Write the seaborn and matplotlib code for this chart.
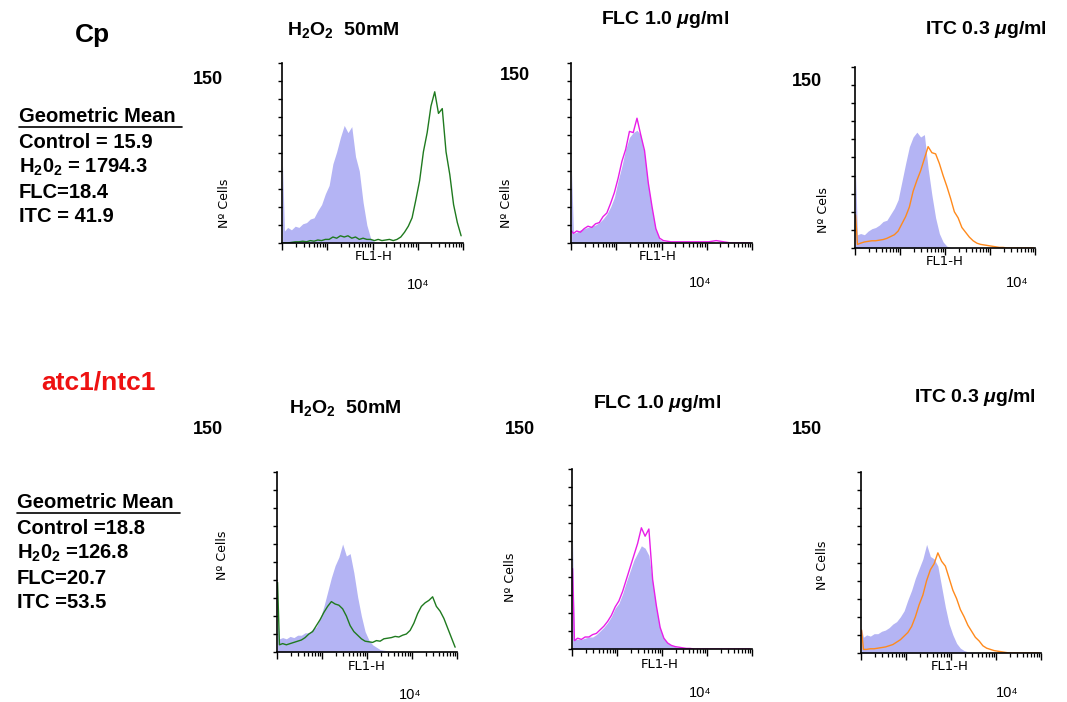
import numpy as np
import pandas as pd
import matplotlib
matplotlib.use("Agg")
import matplotlib.pyplot as plt
from matplotlib.ticker import FixedLocator, NullFormatter
from matplotlib.lines import Line2D
import seaborn as sns

# Histogram counts: first value = first-channel spike,
# then 48 bins of 1/12 decade from 10^0 to 10^4 (FL1-H)
cp_h2o2_ctrl = [65,
                10, 13, 11, 14, 13, 16, 17, 20, 21, 27, 32, 41,
                48, 66, 76, 88, 98, 92, 97, 72, 60, 34, 15, 4,
                1, 0.5, 0, 0, 0, 0, 0, 0, 0, 0, 0, 0,
                0, 0, 0, 0, 0, 0, 0, 0, 0, 0, 0, 0]
cp_h2o2_trt = [0,
               0, 0, 0.5, 1, 1, 1.5, 1, 2, 1.5, 2.5, 2, 3,
               3, 5, 4, 6, 5, 6, 4, 5, 3, 4, 3, 3,
               2, 3, 2, 2.5, 3, 2, 3, 5, 9, 14, 21, 36,
               52, 76, 92, 114, 126, 108, 112, 76, 57, 32, 17, 6]

cp_flc_ctrl = [60,
               8, 9, 11, 12, 13, 14, 15, 17, 20, 24, 30, 38,
               52, 64, 78, 88, 92, 94, 90, 74, 48, 28, 11, 3,
               1.5, 1, 0.5, 0.5, 0, 0, 0, 0, 0, 0, 0, 0,
               0, 0, 0, 0, 0, 0, 0, 0, 0, 0, 0, 0]
cp_flc_trt = [10,
              8, 10, 9, 12, 14, 13, 16, 17, 22, 25, 33, 42,
              54, 68, 78, 93, 92, 104, 90, 77, 50, 30, 12, 4,
              2, 1.5, 1, 1, 1, 1, 1, 1, 1, 1, 1, 1,
              1, 1.5, 2, 1.5, 1, 0.5, 0, 0, 0, 0, 0, 0]

cp_itc_ctrl = [63,
               11, 12, 11, 14, 16, 17, 19, 22, 23, 28, 33, 40,
               55, 70, 84, 92, 96, 92, 94, 66, 44, 25, 12, 5,
               1.5, 0.5, 0, 0, 0, 0, 0, 0, 0, 0, 0, 0,
               0, 0, 0, 0, 0, 0, 0, 0, 0, 0, 0, 0]
cp_itc_trt = [27.5,
              3, 4, 5, 5.5, 6, 6, 6.5, 7, 8, 9.5, 11, 14,
              20, 26, 34, 47, 56, 64, 74, 84, 79, 78, 70, 60,
              51, 41, 30, 25, 17, 13, 9, 6, 4, 3, 2.5, 2,
              1.5, 1, 0.5, 0.5, 0, 0, 0, 0, 0, 0, 0, 0]

atc_h2o2_ctrl = [30,
                 11, 12, 11, 13, 12, 14, 14, 16, 16, 19, 21, 28,
                 38, 50, 62, 72, 79, 90, 80, 82, 66, 46, 30, 17,
                 10, 6, 4, 2, 1.5, 1, 0.5, 0, 0, 0, 0, 0,
                 0, 0, 0, 0, 0, 0, 0, 0, 0, 0, 0, 0]
atc_h2o2_trt = [58,
                6, 7, 6, 7, 8, 9, 10, 12, 15, 17, 22, 27,
                33, 38, 42, 40, 39, 36, 30, 22, 17, 14, 11, 9,
                8.5, 8, 9.5, 9, 11, 11.5, 12, 13, 12.5, 14, 15, 18,
                24, 32, 38, 41, 43, 46, 38, 34, 28, 20, 12, 4]

atc_flc_ctrl = [91,
                8, 8, 8, 9, 10, 10, 12, 15, 18, 22, 27, 34,
                38, 46, 56, 65, 74, 80, 86, 84, 78, 56, 34, 17,
                9, 5, 3, 2, 1, 0.5, 0, 0, 0, 0, 0, 0,
                0, 0, 0, 0, 0, 0, 0, 0, 0, 0, 0, 0]
atc_flc_trt = [67,
               7, 9, 8, 10, 10, 12, 13, 16, 19, 23, 28, 35,
               40, 48, 58, 68, 78, 88, 101, 94, 100, 58, 36, 18,
               9, 5, 3, 2, 1.5, 1, 0.5, 0.5, 0, 0, 0, 0,
               0, 0, 0, 0, 0, 0, 0, 0, 0, 0, 0, 0]

atc_itc_ctrl = [20,
                13, 15, 14, 16, 16, 18, 19, 21, 24, 26, 30, 35,
                44, 52, 62, 70, 78, 90, 80, 78, 72, 55, 38, 24,
                15, 8, 4, 2, 1, 0.5, 0, 0, 0, 0, 0, 0,
                0, 0, 0, 0, 0, 0, 0, 0, 0, 0, 0, 0]
atc_itc_trt = [19,
               3, 3, 3.5, 3.5, 4, 4.5, 5, 6, 7, 9, 11, 14,
               17, 22, 30, 40, 48, 60, 69, 74, 83, 76, 72, 62,
               52, 45, 36, 30, 23, 18, 13, 10, 6, 4, 3, 2,
               1.5, 1, 0.5, 0, 0, 0, 0, 0, 0, 0, 0, 0]

cp_stats = ["Control = 15.9", "H$_2$0$_2$ = 1794.3", "FLC=18.4", "ITC = 41.9"]
atc_stats = ["Control =18.8", "H$_2$0$_2$ =126.8", "FLC=20.7", "ITC =53.5"]

LAV = "#b4b4f4"
GREEN = "#1f7a1f"
MAGENTA = "#e81ee8"
ORANGE = "#ff8a1c"

sns.set_style("ticks")
plt.rcParams["font.family"] = ["Liberation Sans", "DejaVu Sans"]
plt.rcParams["text.color"] = "black"
plt.rcParams["mathtext.fontset"] = "custom"
plt.rcParams["mathtext.rm"] = "Liberation Sans:bold"
plt.rcParams["mathtext.it"] = "Liberation Sans:italic:bold"
plt.rcParams["mathtext.bf"] = "Liberation Sans:bold"

W, H = 1067, 702
fig = plt.figure(figsize=(W / 100, H / 100), dpi=100)


def ftext(x, y, s, **kw):
    # place text using pixel coords of the reference
    return fig.text(x / W, 1 - y / H, s, **kw)


edges = np.concatenate([[0, 0.025], np.arange(1, 49) / 12])
centers = (edges[:-1] + edges[1:]) / 2
bin_edges = edges.tolist()  # seaborn compares bins to "auto", so pass a list
minor = [k + np.log10(m) for k in range(4) for m in range(2, 10)]


def panel(box, ctrl, trt, color):
    l, t, r, b = box
    ax = fig.add_axes([l / W, 1 - b / H, (r - l) / W, (b - t) / H])
    df = pd.DataFrame({"fl1": centers, "ctrl": ctrl, "trt": trt})
    sns.histplot(data=df, x="fl1", weights="ctrl", bins=bin_edges, element="poly", fill=True,
                 color=LAV, alpha=1, linewidth=0, ax=ax)
    sns.histplot(data=df, x="fl1", weights="trt", bins=bin_edges, element="poly", fill=False,
                 color=color, linewidth=1.0, ax=ax)
    ax.set_xlim(0, 4)
    ax.set_ylim(0, 150)
    ax.set_xlabel("")
    ax.set_ylabel("")
    ax.xaxis.set_major_locator(FixedLocator(range(5)))
    ax.xaxis.set_minor_locator(FixedLocator(minor))
    ax.yaxis.set_major_locator(FixedLocator(np.arange(0, 151, 15)))
    ax.xaxis.set_major_formatter(NullFormatter())
    ax.yaxis.set_major_formatter(NullFormatter())
    ax.tick_params(axis="x", which="major", length=5, width=1, direction="out", color="black")
    ax.tick_params(axis="x", which="minor", length=3, width=0.9, direction="out", color="black")
    ax.tick_params(axis="y", length=3, width=1, direction="out", color="black")
    sns.despine(ax=ax)
    for s in ("left", "bottom"):
        ax.spines[s].set_color("black")
        ax.spines[s].set_linewidth(1.2)
    ax.patch.set_alpha(0)
    return ax


# row 1 : Cp
panel((282, 63, 463, 243), cp_h2o2_ctrl, cp_h2o2_trt, GREEN)
panel((571, 63, 752, 243), cp_flc_ctrl, cp_flc_trt, MAGENTA)
panel((855, 67, 1035, 248), cp_itc_ctrl, cp_itc_trt, ORANGE)
# row 2 : atc1/ntc1
panel((277, 472, 457, 652), atc_h2o2_ctrl, atc_h2o2_trt, GREEN)
panel((572, 469, 752, 649), atc_flc_ctrl, atc_flc_trt, MAGENTA)
panel((861, 472, 1041, 653), atc_itc_ctrl, atc_itc_trt, ORANGE)

title_kw = dict(ha="center", va="center", fontsize=14, fontweight="bold")
ftext(343, 30, "H$_2$O$_2$  50mM", **title_kw)
ftext(665, 20, r"FLC 1.0 $\mu$g/ml", **title_kw)
ftext(986, 29, r"ITC 0.3 $\mu$g/ml", **title_kw)
ftext(345, 408, "H$_2$O$_2$  50mM", **title_kw)
ftext(657, 404, r"FLC 1.0 $\mu$g/ml", **title_kw)
ftext(975, 398, r"ITC 0.3 $\mu$g/ml", **title_kw)

n150 = dict(ha="center", va="center", fontsize=13, fontweight="bold")
for x, y in [(208, 79), (515, 75), (807, 81), (208, 430), (520, 430), (807, 430)]:
    ftext(x, y, "150", **n150)

ylab = dict(ha="center", va="center", fontsize=9, rotation=90, family="DejaVu Sans")
ftext(225, 203, "Nº Cells", **ylab)
ftext(507, 203, "Nº Cells", **ylab)
ftext(823, 210, "Nº Cels", **ylab)
ftext(222, 555, "Nº Cells", **ylab)
ftext(510, 577, "Nº Cells", **ylab)
ftext(822, 565, "Nº Cells", **ylab)

for x, y in [(374, 257), (658, 257), (945, 262), (367, 667), (660, 665), (950, 667)]:
    ftext(x, y, "FL1-H", ha="center", va="center", fontsize=9.5, family="DejaVu Sans")
for x, y in [(418, 285), (700, 283), (1017, 283), (410, 695), (700, 693), (1007, 693)]:
    ftext(x, y, "10⁴", ha="center", va="center", fontsize=10.5)

ftext(92, 35, "Cp", ha="center", va="center", fontsize=19, fontweight="bold")
ftext(98, 382, "atc1/ntc1", ha="center", va="center", fontsize=19,
      fontweight="bold", color="#ee1111")

stat_kw = dict(ha="left", va="center", fontsize=14.5, fontweight="bold")
for x0, y0, lines in [(19, 117, cp_stats), (17, 503, atc_stats)]:
    ftext(x0, y0, "Geometric Mean", **stat_kw)
    fig.add_artist(Line2D([x0 / W, (x0 + 163) / W], [1 - (y0 + 10) / H] * 2,
                          color="black", linewidth=1.2))
    for i, s in enumerate(lines):
        ftext(x0, y0 + 25 * (i + 1), s, **stat_kw)

fig.savefig("out.png", dpi=100, facecolor="white")
